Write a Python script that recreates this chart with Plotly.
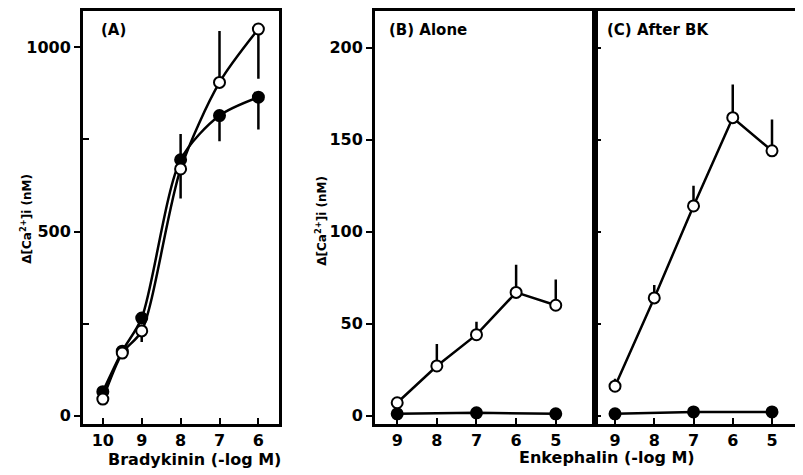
import plotly.graph_objects as go

# ---------------- data ----------------
bk_x = [10, 9.5, 9, 8, 7, 6]
bk_open = [45, 170, 230, 670, 905, 1050]
bk_open_plus = [0, 0, 0, 0, 140, 0]
bk_open_minus = [0, 0, 30, 80, 0, 135]
bk_filled = [65, 175, 265, 695, 815, 865]
bk_filled_plus = [0, 0, 10, 70, 0, 0]
bk_filled_minus = [0, 0, 0, 0, 70, 88]

enk_x = [9, 8, 7, 6, 5]
alone_open = [7, 27, 44, 67, 60]
alone_open_plus = [2, 12, 7, 15, 14]
enk_fx = [9, 7, 5]
alone_filled = [1, 1.5, 1]
alone_filled_plus = [0, 0, 0]

afterbk_open = [16, 64, 114, 162, 144]
afterbk_open_plus = [4, 7, 11, 18, 17]
afterbk_filled = [1, 2, 2]
afterbk_filled_plus = [0, 3, 3]

a_ticks = [10, 9, 8, 7, 6]
enk_ticks = [9, 8, 7, 6, 5]
a_yticks = [0, 500, 1000]
bc_yticks = [0, 50, 100, 150, 200]

# page has an 8px body margin; the figure is sized to fill the rest
OFF = 8
W, H = 803 - OFF, 475 - OFF
FONT = "DejaVu Sans"
K = "black"

def px(x):
    return (x - OFF) / W

def py(y):
    return 1 - (y - OFF) / H

fig = go.Figure()

def add_series(x, y, plus, minus, filled, xa, ya, shape):
    fig.add_trace(go.Scatter(
        x=x, y=y, mode="lines+markers", xaxis=xa, yaxis=ya,
        line=dict(color=K, width=2.5, shape=shape, smoothing=0.8),
        marker=dict(size=11, color=K if filled else "white",
                    line=dict(color=K, width=2), symbol="circle"),
        error_y=dict(type="data", symmetric=False, array=plus,
                     arrayminus=minus, color=K, thickness=2.5, width=0),
        showlegend=False, cliponaxis=False,
    ))

add_series(bk_x, bk_filled, bk_filled_plus, bk_filled_minus, True, "x", "y", "spline")
add_series(bk_x, bk_open, bk_open_plus, bk_open_minus, False, "x", "y", "spline")
zeros5 = [0] * 5
zeros3 = [0] * 3
add_series(enk_fx, alone_filled, alone_filled_plus, zeros3, True, "x2", "y2", "linear")
add_series(enk_x, alone_open, alone_open_plus, zeros5, False, "x2", "y2", "linear")
add_series(enk_fx, afterbk_filled, afterbk_filled_plus, zeros3, True, "x3", "y3", "linear")
add_series(enk_x, afterbk_open, afterbk_open_plus, zeros5, False, "x3", "y3", "linear")

tickfont = dict(family=FONT, size=16, color=K, weight="bold")

common_x = dict(showgrid=False, zeroline=False, showline=True, linecolor=K,
                linewidth=3, ticks="inside", ticklen=6, tickwidth=2,
                tickcolor=K, tickfont=tickfont, mirror=True)
common_y = dict(showgrid=False, zeroline=False, showline=True, linecolor=K,
                linewidth=3, tickwidth=2, tickcolor=K, tickfont=tickfont)

fig.update_layout(
    width=W, height=H, margin=dict(l=0, r=0, t=0, b=0),
    paper_bgcolor="white", plot_bgcolor="white",
    xaxis=dict(common_x, domain=[px(83), px(279)], range=[10.51, 5.47],
               tickvals=a_ticks, anchor="y"),
    yaxis=dict(common_y, domain=[py(425), py(8)], range=[-21.5, 1099],
               tickvals=a_yticks, ticks="outside", ticklen=6, mirror=True,
               minor=dict(tickvals=[250, 750], ticks="inside", ticklen=6,
                          tickwidth=2, tickcolor=K),
               anchor="x"),
    xaxis2=dict(common_x, domain=[px(375), px(595)], range=[9.56, 4.01],
                tickvals=enk_ticks, anchor="y2"),
    yaxis2=dict(common_y, domain=[py(425), py(8)], range=[-4.3, 220],
                tickvals=bc_yticks, ticks="outside", ticklen=6, mirror=True,
                anchor="x2"),
    xaxis3=dict(common_x, domain=[px(595), 1.0], range=[9.51, 4.21],
                tickvals=enk_ticks, anchor="y3"),
    yaxis3=dict(common_y, domain=[py(425), py(8)], range=[-4.3, 220],
                tickvals=bc_yticks, ticks="inside", ticklen=6,
                showticklabels=False, mirror=False, anchor="x3"),
)

ann_font = dict(family=FONT, color=K, weight="bold")
annotations = [
    dict(text="(A)", x=px(99), y=py(27), xanchor="left", yanchor="middle",
         font=dict(ann_font, size=15)),
    dict(text="(B) Alone", x=px(387), y=py(27), xanchor="left", yanchor="middle",
         font=dict(ann_font, size=15)),
    dict(text="(C) After BK", x=px(605), y=py(27), xanchor="left", yanchor="middle",
         font=dict(ann_font, size=15)),
    dict(text="Bradykinin (-log M)", x=px(194), y=py(461), xanchor="center",
         yanchor="middle", font=dict(ann_font, size=16)),
    dict(text="Enkephalin (-log M)", x=px(607), y=py(459), xanchor="center",
         yanchor="middle", font=dict(ann_font, size=16)),
    dict(text="Δ[Ca<sup>2+</sup>]i (nM)", x=px(26), y=py(218), textangle=-90,
         xanchor="center", yanchor="middle", font=dict(ann_font, size=12)),
    dict(text="Δ[Ca<sup>2+</sup>]i (nM)", x=px(321), y=py(220), textangle=-90,
         xanchor="center", yanchor="middle", font=dict(ann_font, size=12)),
]
for a in annotations:
    a.update(xref="paper", yref="paper", showarrow=False)
fig.update_layout(annotations=annotations)

fig.write_html("out.html")
